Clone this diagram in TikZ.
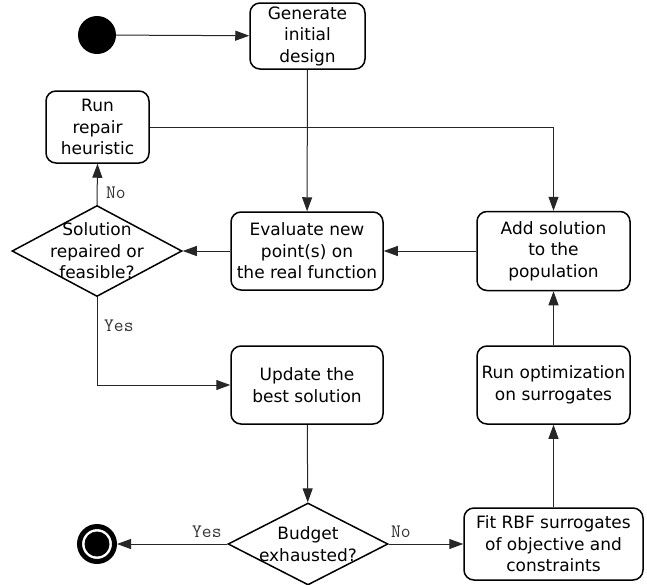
\documentclass[tikz,border=0pt]{standalone}
\usepackage{fontspec}
\setmainfont{DejaVu Sans}
\usetikzlibrary{arrows.meta, shapes.geometric}
\begin{document}
\begin{tikzpicture}[x=1pt,y=-1pt,
  box/.style={draw, line width=1.5pt, rounded corners=10pt, inner sep=0pt, align=center, font=\fontsize{17}{21.5}\selectfont},
  dia/.style={draw, diamond, line width=1.5pt, inner sep=0pt},
  dtext/.style={align=center, inner sep=0pt, font=\fontsize{17}{21.5}\selectfont},
  conn/.style={line width=1pt, draw=black!85, -{Triangle[length=14pt,width=10pt]}},
  lbl/.style={font=\ttfamily\fontsize{19}{20}\selectfont, text=black!80, inner sep=0pt, anchor=west}
]
\useasboundingbox (0,0) rectangle (647,584);

% start and end
\node[circle, fill=black, minimum size=38pt, inner sep=0pt] (start) at (97,35) {};
\node[circle, draw=black, fill=white, line width=5pt, minimum size=35pt, inner sep=0pt] (end) at (97,544) {};
\node[circle, fill=black, minimum size=25pt, inner sep=0pt] (endin) at (end.center) {};

% boxes
\node[box, minimum width=115pt, minimum height=66pt] (gen) at (307.5,36) {Generate\\initial\\design};
\node[box, minimum width=103pt, minimum height=72pt] (rr) at (97.5,127) {Run\\repair\\heuristic};
\node[box, minimum width=152pt, minimum height=78pt] (eval) at (307,251) {Evaluate new\\point(s) on\\the real function};
\node[box, minimum width=153pt, minimum height=79pt] (add) at (553.5,251) {Add solution\\to the\\population};
\node[box, minimum width=152pt, minimum height=78pt] (upd) at (307,385) {Update the\\best solution};
\node[box, minimum width=153pt, minimum height=78pt] (ropt) at (553.5,385) {Run optimization\\on surrogates};
\node[box, minimum width=179pt, minimum height=72pt] (fit) at (553.5,544) {Fit RBF surrogates\\of objective and\\constraints};

% decisions
\node[dia, minimum width=170pt, minimum height=91pt] (d1) at (97,251) {};
\node[dtext] (d1t) at (d1.center) {Solution\\repaired or\\feasible?};
\node[dia, minimum width=160pt, minimum height=82pt] (d2) at (308,544) {};
\node[dtext] (d2t) at (d2.center) {Budget\\exhausted?};

% connectors
\draw[conn] (start) -- (gen);
\draw[conn] (gen) -- (eval);
\draw[conn] (rr.east) -| (add.north);
\draw[conn] (add) -- (eval);
\draw[conn] (eval) -- (d1);
\draw[conn] (d1.north) -- (rr.south);
\draw[conn] (d1.south) |- (upd.west);
\draw[conn] (upd) -- (d2);
\draw[conn] (d2.west) -- (end);
\draw[conn] (d2.east) -- (d2.east -| fit.west);
\draw[conn] (fit) -- (ropt);
\draw[conn] (ropt) -- (add);

% labels
\node[lbl] (lno1) at (106,193) {No};
\node[lbl] (lyes1) at (104,326) {Yes};
\node[lbl] (lyes2) at (192,532) {Yes};
\node[lbl] (lno2) at (391,532) {No};
\end{tikzpicture}
\end{document}
